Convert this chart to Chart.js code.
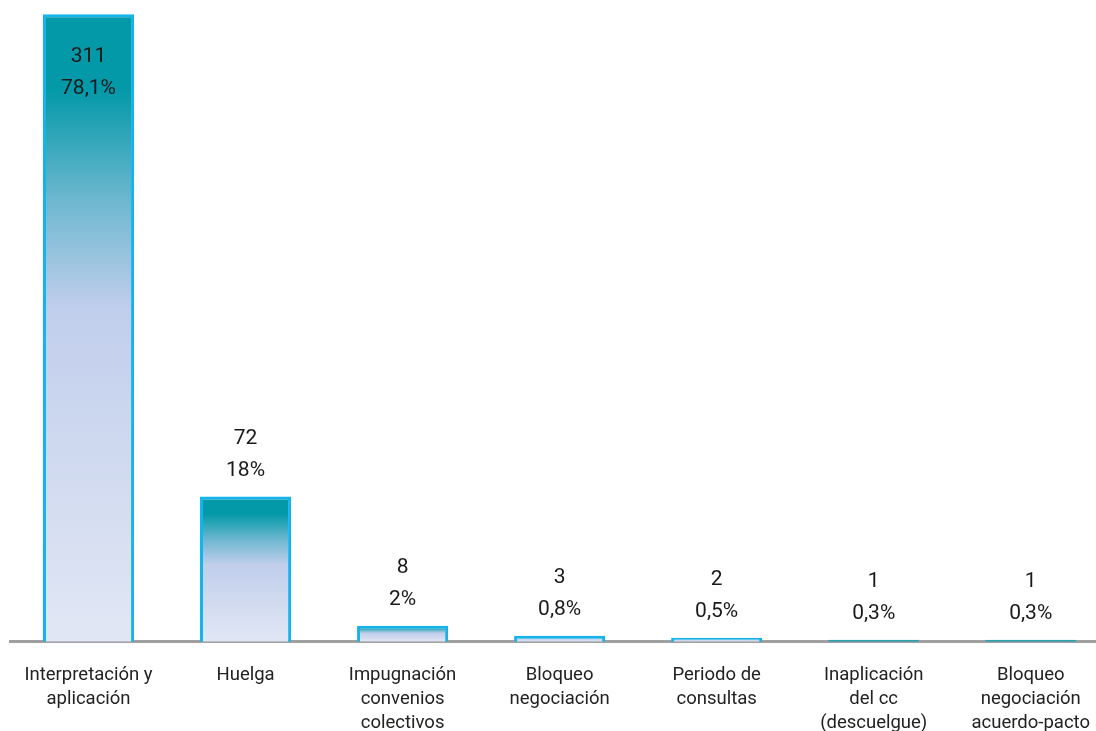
<!DOCTYPE html>
<html>
<head>
<meta charset="utf-8">
<script src="https://cdn.jsdelivr.net/npm/chart.js@4"></script>
<style>
  body { margin: 0; background: #fff; overflow: hidden; }
  .wrap { width: 1111px; height: 756px; }
</style>
</head>
<body>
<div class="wrap"><canvas id="barChart"></canvas></div>
<script>
const categories = [
    ['Interpretación y', 'aplicación'],
    'Huelga',
    ['Impugnación', 'convenios', 'colectivos'],
    ['Bloqueo', 'negociación'],
    ['Periodo de', 'consultas'],
    ['Inaplicación', 'del cc', '(descuelgue)'],
    ['Bloqueo', 'negociación', 'acuerdo-pacto']
]
const counts = [311, 72, 8, 3, 2, 1, 1]
const percents = ['78,1%', '18%', '2%', '0,8%', '0,5%', '0,3%', '0,3%']

const fontFamily = 'Roboto, "DejaVu Sans", sans-serif'

// gradient per bar: teal at the top fading into pale lavender at the base
function barGradient(ctx) {
    const chart = ctx.chart
    if (!chart.chartArea || !chart.scales.y) return '#c3d0ed'
    const y = chart.scales.y
    const top = y.getPixelForValue(counts[ctx.dataIndex])
    const bottom = y.getPixelForValue(0)
    if (bottom - top < 4) return '#0399a8'
    const g = chart.ctx.createLinearGradient(0, top, 0, bottom)
    g.addColorStop(0, '#0399a8')
    g.addColorStop(0.12, '#0399a8')
    g.addColorStop(0.3, '#6fb8d0')
    g.addColorStop(0.47, '#c1ceec')
    g.addColorStop(1, '#e1e7f4')
    return g
}

function barBorder(ctx) {
    return counts[ctx.dataIndex] < 2 ? '#1aa3b8' : '#14b4ea'
}

const valueLabels = {
    id: 'valueLabels',
    afterDatasetsDraw(chart) {
        const ctx = chart.ctx
        const meta = chart.getDatasetMeta(0)
        ctx.save()
        ctx.font = '21px ' + fontFamily
        ctx.fillStyle = '#1a1a1a'
        ctx.textAlign = 'center'
        ctx.textBaseline = 'middle'
        meta.data.forEach((bar, i) => {
            const { x, y } = bar.getProps(['x', 'y'], true)
            let y1 = y - 58
            let y2 = y - 26
            if (y1 < 12) {
                y1 = y + 43
                y2 = y + 75
            }
            ctx.fillText(String(counts[i]), x, y1)
            ctx.fillText(percents[i], x, y2)
        })
        ctx.restore()
    }
}

new Chart(document.getElementById('barChart'), {
    type: 'bar',
    data: {
        labels: categories,
        datasets: [{
            data: counts,
            backgroundColor: barGradient,
            borderColor: barBorder,
            borderWidth: 3,
            borderSkipped: 'bottom',
            barPercentage: 0.58,
            categoryPercentage: 1
        }]
    },
    options: {
        responsive: true,
        maintainAspectRatio: false,
        animation: false,
        layout: { padding: { left: 10, right: 0, top: 0, bottom: 0 } },
        plugins: {
            legend: { display: false },
            tooltip: { enabled: false }
        },
        scales: {
            x: {
                grid: { display: false, drawTicks: false },
                border: { display: true, color: '#a0a0a0', width: 3 },
                ticks: {
                    color: '#222',
                    padding: 21,
                    maxRotation: 0,
                    autoSkip: false,
                    font: { family: fontFamily, size: 18.5, lineHeight: 1.3 }
                }
            },
            y: {
                display: false,
                beginAtZero: true,
                min: 0,
                max: 318
            }
        }
    },
    plugins: [valueLabels]
})
</script>
</body>
</html>
